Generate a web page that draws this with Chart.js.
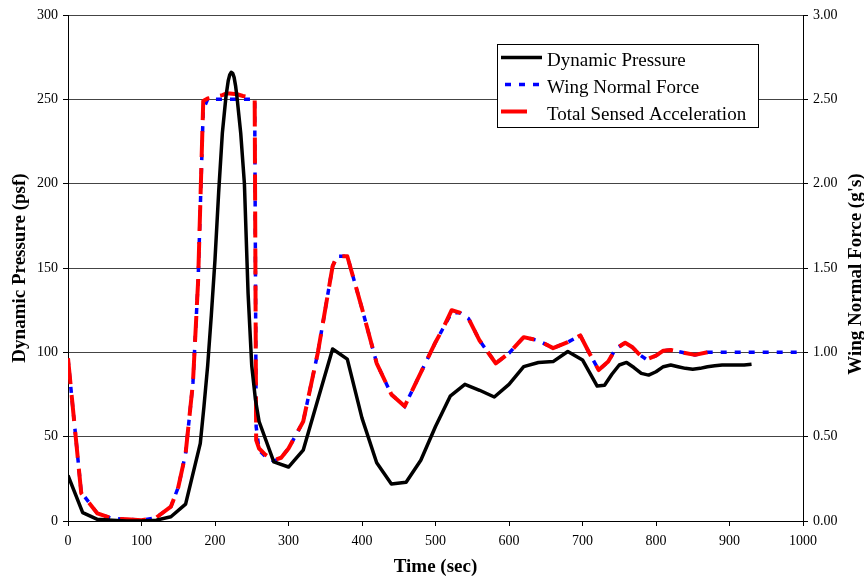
<!DOCTYPE html>
<html>
<head>
<meta charset="utf-8">
<script src="https://cdn.jsdelivr.net/npm/chart.js@4.4.1/dist/chart.umd.min.js"></script>
<style>
  html, body { margin: 0; padding: 0; background: #fff; }
  #wrap { width: 864px; height: 579px; }
</style>
</head>
<body>
<div id="wrap"><canvas id="chart" width="864" height="579"></canvas></div>
<script>
// Dynamic pressure (psf) vs time (sec)
const timeDP = [0, 20, 40, 60, 80, 100, 120, 140, 160, 180, 185, 190, 195, 200, 205, 210, 215, 218, 220, 222, 224, 226, 228, 230, 235, 240, 245, 250, 255, 260,
  280, 300, 320, 340, 360, 380, 400, 420, 440, 460, 480, 500, 520, 540, 560, 580, 600, 620, 640, 660, 680, 700,
  720, 730, 740, 750, 760, 770, 780, 790, 800, 810, 820, 830, 840, 850, 860, 870, 880, 890, 900, 910, 920, 930];
const dynPressure = [27, 5, 1, 0.5, 0, 0, 0.5, 2.5, 10, 46, 68, 92, 122, 155, 195, 230, 252, 261, 264.5, 266, 265.5, 263, 258, 251, 230, 200, 135, 92, 72, 59,
  35, 32, 42, 72, 102, 96, 61, 34.5, 22, 23, 36, 56, 74, 81, 77.5, 73.5, 81, 91.5, 94, 94.5, 100.5, 95.5,
  80, 80.5, 87, 92.5, 94, 91, 87.5, 86.5, 88.5, 91.5, 92.5, 91.5, 90.5, 90, 90.5, 91.5, 92, 92.5, 92.5, 92.5, 92.5, 93];

// Wing normal force and total sensed acceleration (g's) vs time (sec)
const timeG = [0, 18, 40, 60, 80, 100, 120, 140, 150, 160, 170, 177, 184, 190, 200, 210, 216, 220, 230, 238, 245, 254, 256, 260, 268,
  280, 290, 300, 320, 340, 360, 366, 380, 390, 400, 420, 440, 458, 480, 500, 510, 522, 533, 545, 560, 582, 600,
  620, 640, 660, 680, 697, 710, 722, 735, 745, 758, 768, 778, 787, 800, 810, 820, 835, 853, 870, 900, 950, 1000];
const wingNormal = [0.96, 0.17, 0.045, 0.015, 0.01, 0.005, 0.02, 0.085, 0.20, 0.40, 0.82, 1.42, 2.44, 2.50, 2.50, 2.50, 2.50, 2.50, 2.50, 2.50, 2.50, 2.50, 0.56, 0.42, 0.385,
  0.355, 0.375, 0.43, 0.59, 1.00, 1.51, 1.57, 1.57, 1.415, 1.26, 0.935, 0.75, 0.68, 0.88, 1.06, 1.14, 1.235, 1.235, 1.20, 1.07, 0.935, 0.995,
  1.09, 1.07, 1.025, 1.06, 1.10, 0.99, 0.895, 0.945, 1.02, 1.057, 1.03, 0.985, 0.958, 0.98, 1.01, 1.014, 1.00, 0.985, 1.00, 1.00, 1.00, 1.00];
const sensedAccel = [0.965, 0.165, 0.045, 0.015, 0.01, 0.005, 0.02, 0.085, 0.20, 0.40, 0.82, 1.42, 2.49, 2.505, 2.515, 2.525, 2.535, 2.535, 2.53, 2.52, 2.515, 2.50, 0.48, 0.43, 0.395,
  0.36, 0.375, 0.43, 0.59, 1.00, 1.51, 1.57, 1.57, 1.415, 1.26, 0.935, 0.75, 0.68, 0.88, 1.06, 1.14, 1.25, 1.235, 1.20, 1.07, 0.935, 0.995,
  1.09, 1.07, 1.025, 1.06, 1.10, 0.99, 0.895, 0.945, 1.02, 1.057, 1.03, 0.985, 0.958, 0.98, 1.01, 1.014, 1.00, 0.985, 1.00, null, null, null];

const seriesLabels = ['Dynamic Pressure', 'Wing Normal Force', 'Total Sensed Acceleration'];

const FONT = "'Liberation Serif', 'Times New Roman', serif";
Chart.defaults.font.family = FONT;
Chart.defaults.color = '#000';

const toPoints = (xs, ys) => xs.map((x, i) => ({x: x, y: ys[i]}));

// right axis title reads bottom-to-top like the left one
const rightTitle = {
  id: 'rightTitle',
  afterDraw(chart) {
    const ctx = chart.ctx;
    ctx.save();
    ctx.translate(861, 274);
    ctx.rotate(-Math.PI / 2);
    ctx.font = 'bold 19px ' + FONT;
    ctx.fillStyle = '#000';
    ctx.textAlign = 'center';
    ctx.textBaseline = 'alphabetic';
    ctx.fillText("Wing Normal Force (g's)", 0, 0);
    ctx.restore();
  }
};

// boxed legend inside the plot area
const boxLegend = {
  id: 'boxLegend',
  afterDatasetsDraw(chart) {
    const ctx = chart.ctx;
    const x0 = 497, y0 = 44, w = 261, h = 83;
    ctx.save();
    ctx.fillStyle = '#fff';
    ctx.fillRect(x0, y0, w, h);
    ctx.strokeStyle = '#000';
    ctx.lineWidth = 1;
    ctx.strokeRect(x0 + 0.5, y0 + 0.5, w, h);
    const baselines = [65.5, 92.5, 119.5];
    [0, 1, 2].forEach((di, row) => {
      const ds = chart.data.datasets[di];
      const by = baselines[row];
      ctx.beginPath();
      ctx.strokeStyle = ds.borderColor;
      ctx.lineWidth = ds.borderWidth;
      ctx.setLineDash(ds.borderDash || []);
      const lx0 = di === 1 ? 505 : 501;
      const lx1 = di === 0 ? 542 : (di === 1 ? 541 : 530);
      ctx.moveTo(lx0, by - 8);
      ctx.lineTo(lx1, by - 8);
      ctx.stroke();
      ctx.setLineDash([]);
      ctx.font = '19px ' + FONT;
      ctx.fillStyle = '#000';
      ctx.textAlign = 'left';
      ctx.textBaseline = 'alphabetic';
      ctx.fillText(ds.label, 547, by);
    });
    ctx.restore();
  }
};

new Chart(document.getElementById('chart'), {
  type: 'line',
  data: {
    datasets: [
      {
        label: seriesLabels[0],
        data: toPoints(timeDP, dynPressure),
        yAxisID: 'y',
        borderColor: '#000',
        borderWidth: 3.5,
        borderJoinStyle: 'round',
        pointRadius: 0,
        tension: 0,
        order: 0
      },
      {
        label: seriesLabels[1],
        data: toPoints(timeG, wingNormal),
        yAxisID: 'y2',
        borderColor: '#0000ff',
        borderWidth: 3.5,
        borderDash: [6, 8],
        pointRadius: 0,
        tension: 0,
        order: 2
      },
      {
        label: seriesLabels[2],
        data: toPoints(timeG, sensedAccel),
        yAxisID: 'y2',
        borderColor: '#ff0000',
        borderWidth: 4,
        borderDash: [26, 11],
        borderJoinStyle: 'round',
        pointRadius: 0,
        tension: 0,
        spanGaps: false,
        order: 1
      }
    ]
  },
  options: {
    responsive: false,
    animation: false,
    devicePixelRatio: 1,
    layout: {padding: {top: 15, left: 0, right: 0, bottom: 0}},
    plugins: {
      legend: {display: false},
      tooltip: {enabled: false}
    },
    scales: {
      x: {
        type: 'linear',
        min: 0,
        max: 1000,
        afterFit: (scale) => { scale.height = 58; },
        ticks: {stepSize: 100, color: '#000', font: {size: 14}, padding: 7, maxRotation: 0, callback: (v) => String(v)},
        grid: {drawOnChartArea: false, tickLength: 5, tickColor: '#000'},
        border: {color: '#000', width: 1},
        title: {display: true, text: 'Time (sec)', color: '#000', font: {size: 19, weight: 'bold'}, padding: {top: 0, bottom: 1}}
      },
      y: {
        position: 'left',
        min: 0,
        max: 300,
        afterFit: (scale) => { scale.width = 68; },
        ticks: {stepSize: 50, color: '#000', font: {size: 14}, padding: 5},
        grid: {color: '#444', lineWidth: 1, tickLength: 5, tickColor: '#000'},
        border: {color: '#000', width: 1},
        title: {display: true, text: 'Dynamic Pressure (psf)', color: '#000', font: {size: 19, weight: 'bold'}, padding: {top: 9, bottom: 0}}
      },
      y2: {
        position: 'right',
        min: 0,
        max: 3,
        afterFit: (scale) => { scale.width = 61; },
        ticks: {stepSize: 0.5, color: '#000', font: {size: 14}, padding: 5, callback: (v) => v.toFixed(2)},
        grid: {drawOnChartArea: false, tickLength: 5, tickColor: '#000'},
        border: {color: '#000', width: 1}
      }
    }
  },
  plugins: [rightTitle, boxLegend]
});
</script>
</body>
</html>
